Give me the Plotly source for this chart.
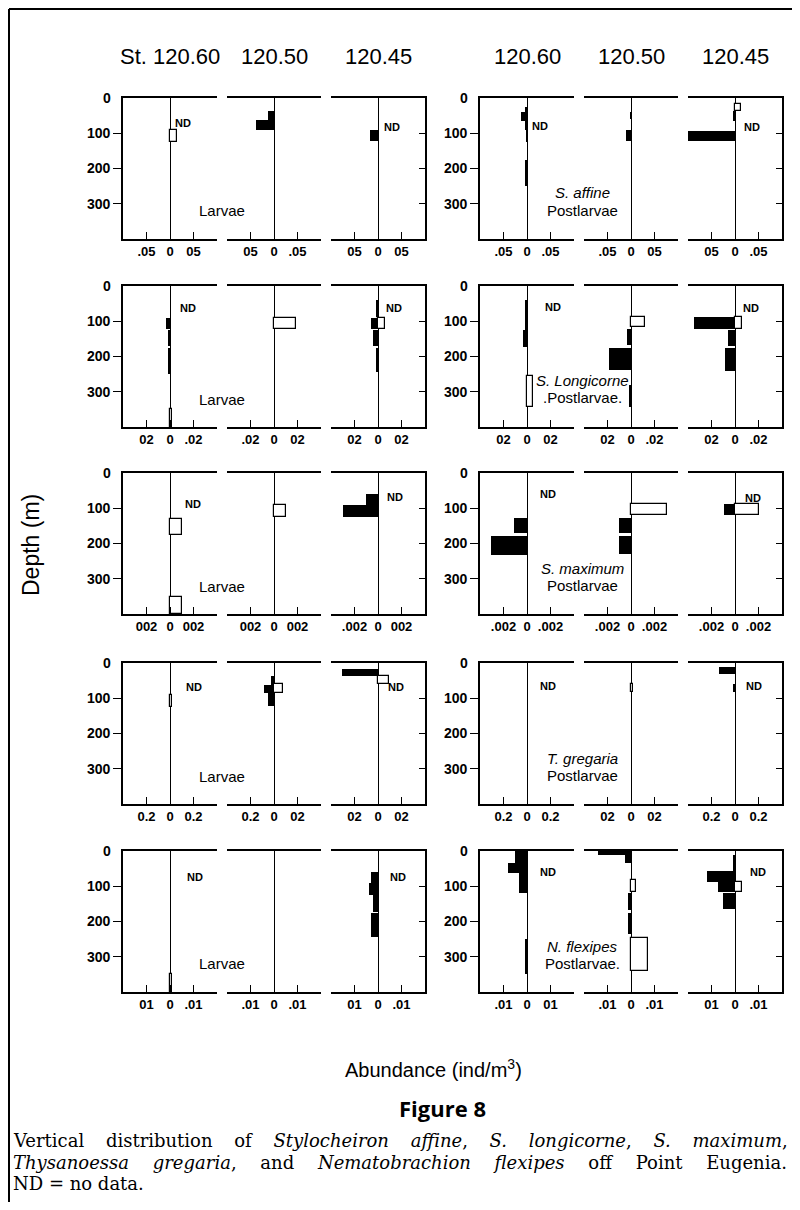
import plotly.graph_objects as go

# page is 800x1210; the html body adds an 8 px margin, so the figure is drawn
# 8 px in from the page corner and page coordinates are converted below
PAGE_OFF = 8
W, H = 792, 1194

# ---------------- data ----------------
stations = ["120.60", "120.50", "120.45"]
species_labels = ["S. affine", "S. Longicorne", "S. maximum", "T. gregaria", "N. flexipes"]
postlarvae_labels = ["Postlarvae", ".Postlarvae.", "Postlarvae", "Postlarvae", "Postlarvae."]
larvae_label = "Larvae"
tick_units = [0.05, 0.02, 0.002, 0.2, 0.01]
depth_ticks = [100, 200, 300]
depth_labels = ["100", "200", "300"]

# bars per station: (top depth m, bottom depth m, abundance ind/m3)
# negative = filled (black) bar, positive = open (white) bar
affine_larvae = [
    [(90, 125, 0.015)],
    [(37, 62, -0.012), (62, 90, -0.038)],
    [(90, 122, -0.016)],
]
affine_post = [
    [(25, 40, -0.003), (40, 65, -0.012), (65, 90, -0.003), (90, 125, -0.002), (175, 250, -0.003)],
    [(40, 60, -0.002), (90, 122, -0.010)],
    [(17, 37, 0.012), (37, 65, -0.003), (95, 122, -0.100)],
]
longicorne_larvae = [
    [(90, 122, -0.0034), (125, 170, -0.001), (175, 250, -0.001), (350, 400, 0.002)],
    [(90, 122, 0.0187)],
    [(40, 88, -0.001), (90, 122, -0.0057), (90, 122, 0.0057), (125, 170, -0.0043), (175, 245, -0.002)],
]
longicorne_post = [
    [(40, 125, -0.0012), (125, 172, -0.0034), (255, 343, 0.0048)],
    [(88, 117, 0.012), (122, 167, -0.003), (176, 238, -0.019), (280, 343, -0.001)],
    [(88, 121, -0.035), (88, 121, 0.0057), (124, 170, -0.0057), (176, 242, -0.0085)],
]
maximum_larvae = [
    [(130, 176, 0.001), (351, 400, 0.001)],
    [(91, 124, 0.001)],
    [(60, 90, -0.001), (90, 124, -0.003)],
]
maximum_post = [
    [(127, 170, -0.0011), (178, 232, -0.0031)],
    [(88, 119, 0.0031), (127, 170, -0.001), (178, 230, -0.001)],
    [(88, 119, -0.00094), (88, 119, 0.002)],
]
gregaria_larvae = [
    [(90, 125, 0.02)],
    [(37, 62, -0.025), (62, 85, -0.085), (60, 85, 0.08), (85, 122, -0.05)],
    [(17, 37, -0.31), (37, 60, 0.09)],
]
gregaria_post = [
    [],
    [(60, 82, 0.02)],
    [(12, 31, -0.136), (60, 82, -0.02)],
]
flexipes_larvae = [
    [(350, 400, 0.0008)],
    [],
    [(60, 90, -0.003), (90, 125, -0.004), (125, 173, -0.002), (176, 244, -0.003)],
]
flexipes_post = [
    [(0, 35, -0.005), (35, 62, -0.0082), (62, 119, -0.0033), (250, 350, -0.001)],
    [(0, 12, -0.014), (12, 33, -0.0024), (82, 116, 0.002), (119, 167, -0.0011),
     (176, 235, -0.0011), (248, 340, 0.0074)],
    [(12, 57, -0.001), (57, 88, -0.012), (88, 116, -0.0071), (88, 116, 0.0031), (119, 165, -0.005)],
]
panel_data = [
    [affine_larvae, affine_post],
    [longicorne_larvae, longicorne_post],
    [maximum_larvae, maximum_post],
    [gregaria_larvae, gregaria_post],
    [flexipes_larvae, flexipes_post],
]

# x tick labels (left, zero, right) as printed, per row and panel
xtick_text = [
    [[".05", "0", "05"], ["05", "0", ".05"], ["05", "0", "05"],
     [".05", "0", ".05"], [".05", "0", "05"], ["05", "0", ".05"]],
    [["02", "0", ".02"], [".02", "0", "02"], ["02", "0", "02"],
     ["02", "0", "02"], ["02", "0", ".02"], ["02", "0", ".02"]],
    [["002", "0", "002"], ["002", "0", "002"], [".002", "0", "002"],
     [".002", "0", ".002"], [".002", "0", ".002"], [".002", "0", ".002"]],
    [["0.2", "0", "0.2"], ["0.2", "0", "02"], ["02", "0", "02"],
     ["0.2", "0", "0.2"], ["02", "0", "02"], ["0.2", "0", "0.2"]],
    [["01", "0", ".01"], [".01", "0", ".01"], ["01", "0", ".01"],
     [".01", "0", "01"], [".01", "0", ".01"], ["01", "0", ".01"]],
]

# "ND" marks: row, panel column, depth (m)
nd_row = [0, 0, 0, 0, 1, 1, 1, 1, 2, 2, 2, 2, 3, 3, 3, 3, 4, 4, 4, 4]
nd_col = [0, 2, 3, 5] * 5
nd_depth = [70, 82, 80, 82, 62, 62, 60, 62, 88, 68, 60, 70, 68, 68, 66, 66, 73, 73, 60, 60]
nd_dx = [3, 4, 3, 7, 8, 6, 16, 6, 13, 7, 11, 8, 14, 8, 11, 9, 15, 10, 11, 13]

# ---------------- layout geometry (page pixels) ----------------
group_left = [123, 480]
panel_w, gap = 94, 10
row_tops = [98, 286, 473, 663, 851]
panel_h = 141

FONT = "Liberation Sans, Arial, Helvetica, sans-serif"


def px(x):
    return (x - PAGE_OFF) / W


def py(y):
    return 1 - (y - PAGE_OFF) / H


def ax_name(k):
    return "" if k == 1 else str(k)


fig = go.Figure()
layout = dict(
    width=W, height=H, margin=dict(l=0, r=0, t=0, b=0),
    paper_bgcolor="white", plot_bgcolor="rgba(0,0,0,0)",
    showlegend=False, barmode="overlay", bargap=0,
    font=dict(family=FONT, color="black"),
)
annotations = []

for r in range(5):
    u = tick_units[r]
    for c in range(6):
        k = r * 6 + c + 1
        g, s = divmod(c, 3)
        x0 = group_left[g] + s * (panel_w + gap)
        top = row_tops[r]
        xa, ya = "x" + ax_name(k), "y" + ax_name(k)
        bars = panel_data[r][g][s]
        filled = [b for b in bars if b[2] < 0]
        opened = [b for b in bars if b[2] > 0]
        fig.add_trace(go.Bar(
            orientation="h",
            x=[b[2] for b in filled], y=[(b[0] + b[1]) / 2 for b in filled],
            width=[b[1] - b[0] for b in filled],
            marker=dict(color="black", line=dict(width=0)),
            xaxis=xa, yaxis=ya, hoverinfo="skip"))
        fig.add_trace(go.Bar(
            orientation="h",
            x=[b[2] for b in opened], y=[(b[0] + b[1]) / 2 for b in opened],
            width=[b[1] - b[0] for b in opened],
            marker=dict(color="white", line=dict(width=1.2, color="black")),
            xaxis=xa, yaxis=ya, hoverinfo="skip"))

        lab = xtick_text[r][c]
        layout["xaxis" + ax_name(k)] = dict(
            domain=[px(x0), px(x0 + panel_w)], anchor=ya,
            range=[-2 * u, 2 * u],
            tickmode="array", tickvals=[-u, 0, u], ticktext=lab,
            ticks="inside", ticklen=7, tickwidth=1.4, tickcolor="black",
            minor=dict(ticks="inside", tick0=0, dtick=u, ticklen=7, tickwidth=1.4,
                       tickcolor="black", showgrid=False),
            showline=True, linewidth=1.6, linecolor="black", mirror=True,
            zeroline=True, zerolinecolor="black", zerolinewidth=1.3,
            showgrid=False, fixedrange=True,
            tickfont=dict(family=FONT, size=13, color="black", weight="bold"),
        )
        yax = dict(
            domain=[py(top + panel_h), py(top)], anchor=xa,
            range=[400, 0], showgrid=False, zeroline=False, fixedrange=True,
            tickmode="array", tickvals=depth_ticks, ticktext=depth_labels,
        )
        if s == 0:
            yax.update(showline=True, linewidth=1.6, linecolor="black",
                       ticks="outside", ticklen=8, tickwidth=1.4, tickcolor="black",
                       tickfont=dict(family=FONT, size=14, color="black", weight="bold"))
            annotations.append(dict(
                xref=xa + " domain", yref=ya, x=0, y=0, xanchor="right", yanchor="middle",
                xshift=-10, text="0", showarrow=False,
                font=dict(family=FONT, size=14, color="black", weight="bold")))
        elif s == 2:
            yax.update(side="right", showline=True, linewidth=1.6, linecolor="black",
                       ticks="inside", ticklen=6, tickwidth=1.4, tickcolor="black",
                       showticklabels=False)
        else:
            yax.update(showline=False, ticks="", showticklabels=False)
        layout["yaxis" + ax_name(k)] = yax

    # stage / species labels
    top = row_tops[r]
    lx = group_left[0] + panel_w + gap / 2
    rx = group_left[1] + panel_w + gap / 2
    annotations.append(dict(xref="paper", yref="paper", x=px(lx), y=py(top + 113),
                            text=larvae_label, showarrow=False, xanchor="center", yanchor="middle",
                            font=dict(family=FONT, size=15, color="black")))
    annotations.append(dict(xref="paper", yref="paper", x=px(rx + 3), y=py(top + 95),
                            text="<i>" + species_labels[r] + "</i>", showarrow=False,
                            xanchor="center", yanchor="middle",
                            font=dict(family=FONT, size=15, color="black")))
    annotations.append(dict(xref="paper", yref="paper", x=px(rx + 3), y=py(top + 112),
                            text=postlarvae_labels[r], showarrow=False,
                            xanchor="center", yanchor="middle",
                            font=dict(family=FONT, size=15, color="black")))

# ND labels
for rr, cc, dd, dx in zip(nd_row, nd_col, nd_depth, nd_dx):
    k = rr * 6 + cc + 1
    annotations.append(dict(xref="x" + ax_name(k), yref="y" + ax_name(k), x=0, y=dd,
                            xanchor="left", yanchor="middle", xshift=dx, text="ND",
                            showarrow=False,
                            font=dict(family=FONT, size=11, color="black", weight="bold")))

# station header
zeros = []
for g in range(2):
    for s in range(3):
        zeros.append(group_left[g] + s * (panel_w + gap) + panel_w / 2)
for i, z in enumerate(zeros):
    t = stations[i % 3]
    if i == 0:
        t = "St. " + t
    annotations.append(dict(xref="paper", yref="paper", x=px(z), y=py(57), text=t,
                            showarrow=False, xanchor="center", yanchor="middle",
                            font=dict(family=FONT, size=22, color="black")))

# axis titles
annotations.append(dict(xref="paper", yref="paper", x=px(31), y=py(545), text="Depth (m)",
                        textangle=-90, showarrow=False, xanchor="center", yanchor="middle",
                        font=dict(family=FONT, size=23, color="black")))
annotations.append(dict(xref="paper", yref="paper", x=px(433), y=py(1068),
                        text="Abundance (ind/m<sup>3</sup>)",
                        showarrow=False, xanchor="center", yanchor="middle",
                        font=dict(family=FONT, size=20, color="black")))
annotations.append(dict(xref="paper", yref="paper", x=px(442), y=py(1108), text="<b>Figure 8</b>",
                        showarrow=False, xanchor="center", yanchor="middle",
                        font=dict(family="Open Sans, sans-serif", size=22, color="black")))

caption_lines = [
    "Vertical distribution of <i>Stylocheiron affine</i>, <i>S. longicorne</i>, <i>S. maximum</i>,",
    "<i>Thysanoessa gregaria</i>, and <i>Nematobrachion flexipes</i> off Point Eugenia.",
    "ND = no data.",
]
caption_spacing = [16, 18, 0]
caption_y = [1140, 1162, 1183]
for t, sp, yy in zip(caption_lines, caption_spacing, caption_y):
    txt = '<span style="word-spacing:%dpx">%s</span>' % (sp, t) if sp else t
    annotations.append(dict(xref="paper", yref="paper", x=px(11), y=py(yy), text=txt,
                            showarrow=False, xanchor="left", yanchor="middle",
                            font=dict(family="DejaVu Serif, serif", size=18, color="black")))

layout["annotations"] = annotations
layout["shapes"] = [
    dict(type="line", xref="paper", yref="paper", x0=px(9), x1=px(9), y0=py(9), y1=0,
         line=dict(color="black", width=2)),
    dict(type="line", xref="paper", yref="paper", x0=px(9), x1=px(796), y0=py(9), y1=py(9),
         line=dict(color="black", width=2)),
    dict(type="line", xref="paper", yref="paper", x0=px(796), x1=px(796), y0=py(9), y1=0,
         line=dict(color="black", width=2)),
]
fig.update_layout(**layout)
fig.write_html("out.html")
